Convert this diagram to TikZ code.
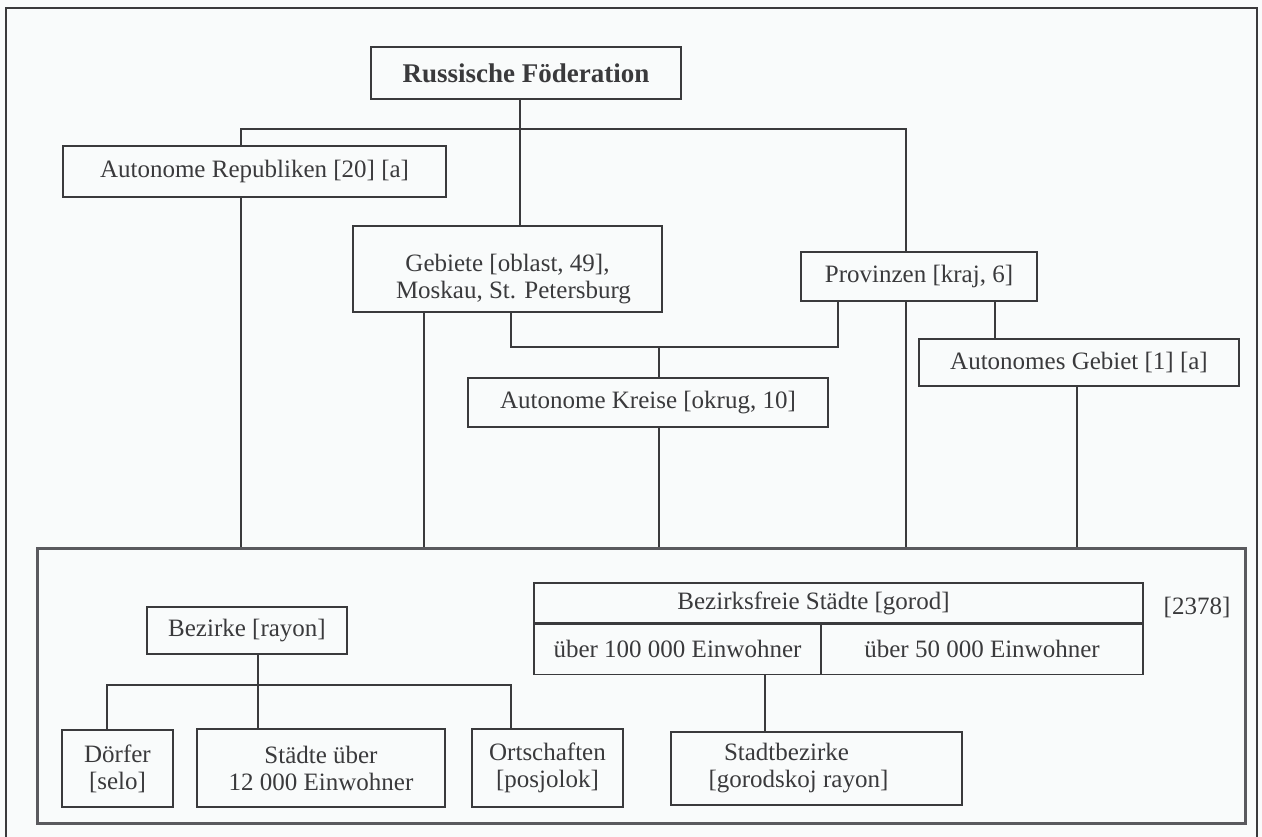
\documentclass[tikz,border=0pt]{standalone}
\usepackage{fontspec}
\setmainfont{Liberation Serif}
\definecolor{ink}{HTML}{3A3A3C}
\definecolor{paper}{HTML}{F9FBFB}
\definecolor{frame}{HTML}{5A5A5E}
\tikzset{
  box/.style={draw=ink, line width=1.3pt, inner sep=0pt, align=center, text=ink,
    font=\fontsize{25}{27}\selectfont},
  conn/.style={draw=ink, line width=1.3pt},
  bigframe/.style={draw=frame, line width=3pt},
  lbl/.style={inner sep=0pt, text=ink, font=\fontsize{25}{27}\selectfont}
}
\begin{document}
\begin{tikzpicture}[x=1pt,y=-1pt]
\fill[paper] (0,0) rectangle (1262,837);
\useasboundingbox (0,0) rectangle (1262,837);
% outer frame (open at bottom)
\draw[draw=ink, line width=1.5pt] (6,837) -- (6,8) -- (1257,8) -- (1257,837);

% upper boxes
\node[box, minimum width=310pt, minimum height=52pt, font=\fontsize{27}{29}\selectfont\bfseries] (russ) at (526,73) {Russische Föderation};
\node[box, minimum width=383pt, minimum height=51pt] (autrep) at (254.5,171.5) {Autonome Republiken [20] [a]};
\node[box, minimum width=309pt, minimum height=86pt] (gebiete) at (507.5,269) {\rule{0pt}{38pt}Gebiete [oblast, 49],\\ \hspace*{12pt}Moskau, St. Petersburg};
\node[box, minimum width=236pt, minimum height=49pt] (prov) at (919,276.5) {Provinzen [kraj, 6]};
\node[box, minimum width=320pt, minimum height=47pt] (autgeb) at (1079,362.5) {Autonomes Gebiet [1] [a]};
\node[box, minimum width=360pt, minimum height=49pt] (kreise) at (648,402.5) {Autonome Kreise [okrug, 10]};

% lower big frame
\node[bigframe, inner sep=0pt, minimum width=1208pt, minimum height=275pt] (big) at (641,685.5) {};

% lower boxes
\node[box, minimum width=200pt, minimum height=47pt] (bezirke) at (247,630.5) {Bezirke [rayon]};
\node[box, minimum width=111pt, minimum height=77pt] (doerfer) at (117.5,768.5) {Dörfer\\{}[selo]};
\node[box, minimum width=248pt, minimum height=78pt] (staedte) at (321,768) {Städte über\\ 12 000 Einwohner};
\node[box, minimum width=151pt, minimum height=78pt] (ortsch) at (547.5,768) {Ortschaften\\{}[posjolok]};
\node[box, minimum width=609pt, minimum height=40pt] (bfs) at (838.5,603) {Bezirksfreie Städte [gorod]\hspace*{50pt}};
\node[box, minimum width=287pt, minimum height=50pt, anchor=north west] (b100) at (bfs.south west) {über 100 000 Einwohner};
\node[box, minimum width=322pt, minimum height=50pt, anchor=north east] (b50) at (bfs.south east) {über 50 000 Einwohner};
\node[box, minimum width=291pt, minimum height=73pt] (stadtbez) at (816.5,768.5) {Stadtbezirke\hspace*{60pt}\\{}[gorodskoj rayon]\hspace*{36pt}};
\node[lbl] (nr) at (1197,607) {[2378]};

% connector helper coordinates
\coordinate (hub) at (520,129);
\coordinate (cL) at (241,129);
\coordinate (cR) at (906,129);
\coordinate (jL) at (511,347);
\coordinate (jR) at (838,347);
\coordinate (jK) at (659,347);
\coordinate (xG) at (424,0);
\coordinate (xA) at (995,0);
\coordinate (xAG) at (1077,0);
\coordinate (bz) at (258,685);
\coordinate (bzL) at (107,685);
\coordinate (bzR) at (511,685);
\coordinate (xS) at (765,0);

% top level connectors
\draw[conn] (hub |- russ.south) -- (hub |- gebiete.north);
\draw[conn] (cL |- autrep.north) -- (cL) -- (cR) -- (cR |- prov.north);
\draw[conn] (cL |- autrep.south) -- (cL |- big.north);
\draw[conn] (xG |- gebiete.south) -- (xG |- big.north);
\draw[conn] (jL |- gebiete.south) -- (jL) -- (jR) -- (jR |- prov.south);
\draw[conn] (jK) -- (jK |- kreise.north);
\draw[conn] (jK |- kreise.south) -- (jK |- big.north);
\draw[conn] (cR |- prov.south) -- (cR |- big.north);
\draw[conn] (xA |- prov.south) -- (xA |- autgeb.north);
\draw[conn] (xAG |- autgeb.south) -- (xAG |- big.north);

% lower connectors
\draw[conn] (bz |- bezirke.south) -- (bz |- staedte.north);
\draw[conn] (bzL |- doerfer.north) -- (bzL) -- (bzR) -- (bzR |- ortsch.north);
\draw[conn] (xS |- b100.south) -- (xS |- stadtbez.north);
\end{tikzpicture}
\end{document}
